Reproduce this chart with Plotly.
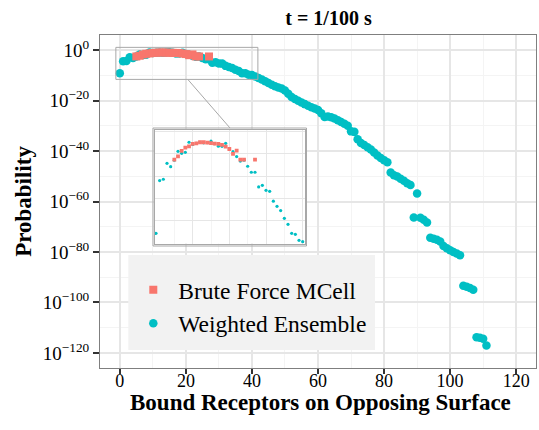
import plotly.graph_objects as go

# ---------------------------------------------------------------------------
# Data: probability of n receptors bound on the opposing surface at t = 1/100 s
# ---------------------------------------------------------------------------
we_bound = list(range(0, 112))
we_prob = [
    7.6e-10, 4.1e-5, 5.4e-5, 1.45e-3, 7.2e-4, 2.8e-3, 1.74e-2, 1.15e-2, 1.41e-2, 0.112,   # 0-9
    7.1e-2, 8.9e-2, 0.112, 0.100, 0.105, 0.141, 8.3e-2, 5.0e-2, 4.9e-2, 9.1e-2,        # 10-19
    2.8e-2, 1.6e-2, 5.8e-3, 2.3e-3, 2.8e-3, 7.9e-4, 2.3e-4, 2.3e-4, 1.1e-5, 1.55e-5,   # 20-29
    5.5e-6, 4.5e-6, 5.8e-7, 2.0e-7, 8.3e-8, 1.7e-8, 4.9e-9, 7.6e-10, 6.2e-10, 1.8e-10, # 30-39
    1.35e-10, 3.2e-11, 1.0e-11, 2.5e-12, 5.0e-13, 1.0e-13, 2.0e-14, 5.0e-15, 1.6e-15,  # 40-48
    6.3e-16, 1.0e-16, 5.0e-18, 2.5e-19, 4.0e-20, 7.9e-21, 1.6e-21, 4.0e-22, 1.0e-22,   # 49-57
    2.5e-23, 7.9e-24, 2.0e-24, 1.0e-25, 3.2e-27, 5.0e-27, 2.5e-27, 7.9e-28, 1.6e-28,   # 58-66
    3.2e-29, 6.3e-30, 1.0e-30, 6.3e-33, 4.0e-33, 5.0e-36, 1.6e-37, 2.5e-38, 3.2e-39,   # 67-75
    4.0e-40, 2.5e-41, 1.6e-42, 1.6e-43, 2.5e-44, 4.0e-45, 3.2e-49, 2.5e-50, 7.9e-51,   # 76-84
    1.0e-51, 1.6e-52, 1.6e-53, 3.2e-54, 5.0e-67, 1.6e-57, 4.0e-67, 6.3e-68, 5.0e-69,   # 85-93
    4.0e-75, 1.6e-75, 6.3e-76, 1.3e-76, 2.5e-78, 3.2e-79, 5.0e-80, 1.0e-80, 2.5e-81,   # 94-102
    5.0e-82, 4.0e-94, 1.6e-94, 5.0e-95, 1.0e-95, 1.6e-114, 1.0e-114, 4.0e-115,         # 103-110
    7.9e-118,                                                                          # 111
]

bf_bound = [5, 6, 7, 8, 9, 10, 11, 12, 13, 14, 15, 16, 17, 18, 19, 20, 21, 22, 23, 24, 27]
bf_prob = [
    3.1e-3, 6.2e-3, 1.86e-2, 3.7e-2, 4.9e-2, 7.9e-2, 9.1e-2, 0.112, 0.112, 0.105,
    9.5e-2, 8.3e-2, 7.9e-2, 6.5e-2, 4.6e-2, 2.8e-2, 1.0e-2, 2.0e-2, 3.1e-3, 3.1e-3,
    3.1e-3,
]

x_ticks = [0, 20, 40, 60, 80, 100, 120]
x_minor = [10, 30, 50, 70, 90, 110]
y_tick_exp = [0, -20, -40, -60, -80, -100, -120]
y_minor_exp = [-10, -30, -50, -70, -90, -110]
y_tick_labels = ["10<sup>%s</sup>" % str(e).replace("-", "\u2212") for e in y_tick_exp]

# Region of the main panel that is magnified in the inset
zoom_x = [-1.2, 41.8]
zoom_y = [10 ** 1.1, 10 ** -11.6]

# ---------------------------------------------------------------------------
# Styling
# ---------------------------------------------------------------------------
FONT = "Liberation Serif"
BF_COLOR = "#F8766D"
WE_COLOR = "#00BFC4"
GRID_MAJOR = "#E6E6E6"
GRID_MINOR = "#F4F4F4"
FRAME = "#A8A8A8"

W, H = 539, 430
M = dict(l=100, r=3, t=35, b=62)
PW = W - M["l"] - M["r"]
PH = H - M["t"] - M["b"]


def fx(px):
    return (px - M["l"]) / PW


def fy(py):
    return (H - M["b"] - py) / PH


fig = go.Figure()

# Main panel
fig.add_trace(go.Scatter(
    x=we_bound, y=we_prob, mode="markers", name="Weighted Ensemble",
    marker=dict(color=WE_COLOR, size=8.5, symbol="circle", line=dict(width=0)),
    legendrank=2,
))
fig.add_trace(go.Scatter(
    x=bf_bound, y=bf_prob, mode="markers", name="Brute Force MCell",
    marker=dict(color=BF_COLOR, size=8, symbol="square", line=dict(width=0)),
    legendrank=1,
))
fig.add_trace(go.Scatter(
    x=[zoom_x[0], zoom_x[1], zoom_x[1], zoom_x[0], zoom_x[0]],
    y=[zoom_y[0], zoom_y[0], zoom_y[1], zoom_y[1], zoom_y[0]],
    mode="lines", line=dict(color=FRAME, width=1), showlegend=False, hoverinfo="skip",
))

# Inset (magnified view)
fig.add_trace(go.Scatter(
    x=we_bound, y=we_prob, mode="markers", xaxis="x2", yaxis="y2", showlegend=False,
    marker=dict(color=WE_COLOR, size=3.2, symbol="circle", line=dict(width=0)),
))
fig.add_trace(go.Scatter(
    x=bf_bound, y=bf_prob, mode="markers", xaxis="x2", yaxis="y2", showlegend=False,
    marker=dict(color=BF_COLOR, size=3.8, symbol="square", line=dict(width=0)),
))

x_tick_font = dict(family=FONT, size=18, color="black")
y_tick_font = dict(family=FONT, size=19, color="black")
title_font = dict(family=FONT, size=23, color="black")

fig.update_layout(
    width=W, height=H, margin=M,
    paper_bgcolor="white", plot_bgcolor="white",
    font=dict(family=FONT, color="black"),
    title=dict(text="<b>t = 1/100 s</b>", x=fx(328.5), xref="paper", xanchor="center",
               y=1 - 17.5 / H, yref="container", yanchor="middle",
               font=dict(family=FONT, size=20, color="black")),
    xaxis=dict(
        range=[-6, 126], tickmode="array", tickvals=x_ticks,
        ticks="outside", ticklen=5, tickwidth=1.5, tickcolor="#333333",
        ticklabelstandoff=-9,
        tickfont=x_tick_font, showline=True, mirror=True, linecolor="#7F7F7F", linewidth=1,
        showgrid=True, gridcolor=GRID_MAJOR, gridwidth=1.5, zeroline=False,
        minor=dict(tickmode="array", tickvals=x_minor, showgrid=True,
                   gridcolor=GRID_MINOR, gridwidth=1.2, ticks=""),
    ),
    yaxis=dict(
        type="log", range=[-126, 6], tickmode="array",
        tickvals=[10.0 ** e for e in y_tick_exp], ticktext=y_tick_labels,
        ticks="outside", ticklen=6, tickwidth=1.5, tickcolor="#333333",
        tickfont=y_tick_font, showline=True, mirror=True, linecolor="#7F7F7F", linewidth=1,
        showgrid=True, gridcolor=GRID_MAJOR, gridwidth=1.5, zeroline=False,
        minor=dict(tickmode="array", tickvals=[10.0 ** e for e in y_minor_exp], showgrid=True,
                   gridcolor=GRID_MINOR, gridwidth=1.2, ticks=""),
        title=dict(text="<b>Probability</b>", font=title_font, standoff=4),
    ),
    xaxis2=dict(
        domain=[fx(155), fx(305)], anchor="y2", range=[-0.27, 40.63],
        tickmode="array", tickvals=[0, 10, 20, 30, 40], showticklabels=False, ticks="",
        showline=True, mirror=True, linecolor=FRAME, linewidth=1,
        showgrid=True, gridcolor=GRID_MAJOR, gridwidth=1.2, zeroline=False,
        minor=dict(tickmode="array", tickvals=[5, 15, 25, 35], showgrid=True,
                   gridcolor=GRID_MINOR, gridwidth=1, ticks=""),
    ),
    yaxis2=dict(
        domain=[fy(243.5), fy(130)], anchor="x2", type="log", range=[-10.03, 0.15],
        tickmode="array", tickvals=[10.0 ** e for e in [0, -4, -8]],
        showticklabels=False, ticks="",
        showline=True, mirror=True, linecolor=FRAME, linewidth=1,
        showgrid=True, gridcolor=GRID_MAJOR, gridwidth=1.2, zeroline=False,
        minor=dict(tickmode="array", tickvals=[10.0 ** e for e in [-2, -6, -10]], showgrid=True,
                   gridcolor=GRID_MAJOR, gridwidth=1, ticks=""),
    ),
    legend=dict(
        x=fx(128.3), y=fy(268), xanchor="left", yanchor="top",
        bgcolor="rgba(0,0,0,0)", borderwidth=0, itemwidth=40,
        font=dict(family=FONT, size=23.5, color="black"),
    ),
    annotations=[
        dict(text="<b>Bound Receptors on Opposing Surface</b>", xref="paper", yref="paper",
             x=fx(320), y=fy(402), xanchor="center", yanchor="middle",
             showarrow=False, font=title_font),
    ],
    shapes=[
        # white backdrop for the inset panel
        dict(type="rect", xref="x2 domain", yref="y2 domain", x0=0, x1=1, y0=0, y1=1,
             fillcolor="white", line=dict(width=0), layer="below"),
        # inset frame
        dict(type="rect", xref="paper", yref="paper",
             x0=fx(153), x1=fx(306.5), y0=fy(246), y1=fy(128),
             line=dict(color=FRAME, width=1), layer="above"),
        # connector from the zoom window to the inset
        dict(type="line", xref="paper", yref="paper",
             x0=fx(188.3), y0=fy(80), x1=fx(230), y1=fy(128),
             line=dict(color=FRAME, width=1), layer="above"),
        # legend background
        dict(type="rect", xref="paper", yref="paper",
             x0=fx(128.3), x1=fx(375), y0=fy(350), y1=fy(255),
             fillcolor="#F2F2F2", line=dict(width=0), layer="above"),
    ],
)

fig.write_html("out.html")
